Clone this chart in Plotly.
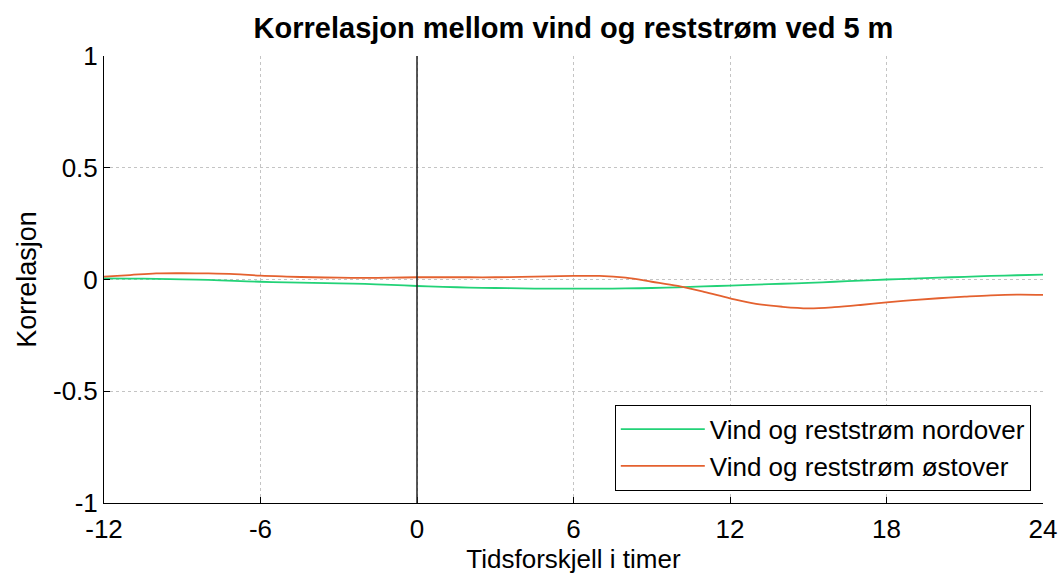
import plotly.graph_objects as go

# Time lag in hours
lag_hours = list(range(-12, 25))

# Correlation wind vs residual current northward
corr_north = [0.005, 0.004, 0.003, 0.001, -0.002, -0.006, -0.010, -0.013, -0.015, -0.017,
              -0.020, -0.024, -0.029, -0.033, -0.036, -0.038, -0.040, -0.041, -0.041, -0.041,
              -0.040, -0.038, -0.035, -0.031, -0.027, -0.023, -0.019, -0.015, -0.010, -0.005,
              0.000, 0.004, 0.008, 0.012, 0.016, 0.019, 0.022]

# Correlation wind vs residual current eastward
corr_east = [0.013, 0.020, 0.027, 0.028, 0.027, 0.024, 0.017, 0.013, 0.010, 0.008,
             0.007, 0.008, 0.010, 0.010, 0.010, 0.010, 0.012, 0.014, 0.016, 0.016,
             0.008, -0.010, -0.029, -0.055, -0.084, -0.109, -0.122, -0.129, -0.124, -0.114,
             -0.102, -0.092, -0.084, -0.077, -0.071, -0.068, -0.069]

x_ticks = [-12, -6, 0, 6, 12, 18, 24]
x_ticktext = ["-12", "-6", "0", "6", "12", "18", "24"]
y_ticks = [-1, -0.5, 0, 0.5, 1]
y_ticktext = ["-1", "-0.5", "0", "0.5", "1"]
ref_lag = 0

FONT = "Liberation Sans, Arial, sans-serif"

fig = go.Figure()
fig.add_trace(go.Scatter(x=lag_hours, y=corr_north, mode="lines",
                         name="Vind og reststrøm nordover",
                         line=dict(color="#22d277", width=1.8, shape="spline")))
fig.add_trace(go.Scatter(x=lag_hours, y=corr_east, mode="lines",
                         name="Vind og reststrøm østover",
                         line=dict(color="#e4612f", width=1.8, shape="spline")))

fig.add_shape(type="line", x0=ref_lag, x1=ref_lag, y0=0, y1=1, xref="x", yref="paper",
              line=dict(color="#222222", width=1.5))

fig.update_layout(
    width=1064, height=575,
    margin=dict(l=104, r=21, t=56, b=72, autoexpand=False),
    paper_bgcolor="white", plot_bgcolor="white",
    font=dict(family=FONT, size=26, color="black"),
    title=dict(text="<b>Korrelasjon mellom vind og reststrøm ved 5 m</b>",
               x=0.5, xref="paper", xanchor="center",
               y=1 - 28 / 575, yref="container", yanchor="middle",
               font=dict(family=FONT, size=29, color="black")),
    showlegend=True,
    legend=dict(x=0.987, y=0.0275, xanchor="right", yanchor="bottom",
                bgcolor="white", bordercolor="black", borderwidth=1,
                font=dict(family=FONT, size=26, color="black"),
                itemwidth=84, tracegroupgap=0),
)

fig.update_xaxes(range=[-12, 24], tickvals=x_ticks, ticktext=x_ticktext,
                 ticks="inside", ticklen=6, ticklabelstandoff=3, automargin=False,
                 tickcolor="black", showline=True, linecolor="black", linewidth=1,
                 showgrid=True, gridcolor="#c4c4c4", griddash="dot", gridwidth=1,
                 zeroline=False, tickfont=dict(size=26),
                 title=dict(text="Tidsforskjell i timer", font=dict(size=26), standoff=3))
fig.update_yaxes(range=[-1, 1], tickvals=y_ticks, ticktext=y_ticktext, ticks="inside",
                 ticklen=6, automargin=False,
                 tickcolor="black", showline=True, linecolor="black", linewidth=1,
                 showgrid=True, gridcolor="#c4c4c4", griddash="dot", gridwidth=1,
                 zeroline=False, tickfont=dict(size=26),
                 title=dict(text="Korrelasjon", font=dict(size=27), standoff=8))

fig.write_html("out.html")
